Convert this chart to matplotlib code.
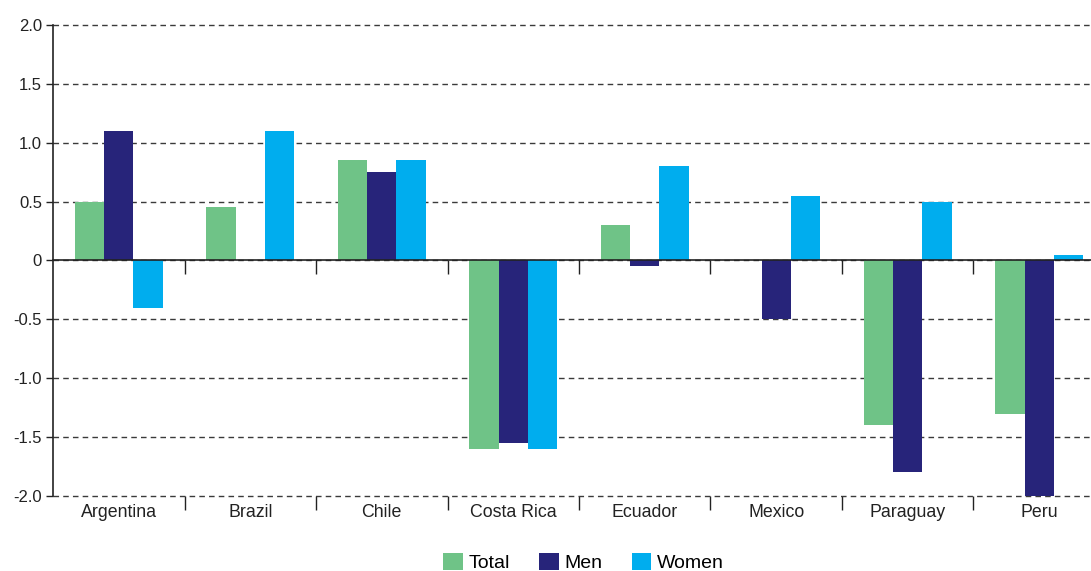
import matplotlib.pyplot as plt
import numpy as np

plt.rcParams["font.family"] = ["Liberation Sans", "DejaVu Sans"]

laender = ["Argentina", "Brazil", "Chile", "Costa Rica", "Ecuador", "Mexico", "Paraguay", "Peru"]
total = [0.5, 0.45, 0.85, -1.6, 0.3, 0.0, -1.4, -1.3]
maenner = [1.1, 0.0, 0.75, -1.55, -0.05, -0.5, -1.8, -2.0]
frauen = [-0.4, 1.1, 0.85, -1.6, 0.8, 0.55, 0.5, 0.05]
y_ticks = [-2.0, -1.5, -1.0, -0.5, 0.0, 0.5, 1.0, 1.5, 2.0]
y_labels = ["-2.0", "-1.5", "-1.0", "-0.5", "0", "0.5", "1.0", "1.5", "2.0"]

farben = {"Total": "#6fc387", "Men": "#27247a", "Women": "#00adee"}

fig = plt.figure(figsize=(10.91, 5.71), dpi=100)
ax = fig.add_axes([0.0486, 0.1313, 0.9642, 0.825])

x = np.arange(len(laender))
breite = 0.222

ax.bar(x - breite, total, breite, color=farben["Total"], linewidth=0, label="Total", zorder=3)
ax.bar(x, maenner, breite, color=farben["Men"], linewidth=0, label="Men", zorder=3)
ax.bar(x + breite, frauen, breite, color=farben["Women"], linewidth=0, label="Women", zorder=3)

ax.set_xlim(-0.5, len(laender) - 0.5)
ax.set_ylim(-2.0, 2.0)

# y achse
ax.set_yticks(y_ticks)
ax.set_yticklabels(y_labels, fontsize=12, color="#222222")
ax.tick_params(axis="y", length=5, width=1, color="#222222", pad=3)
ax.yaxis.grid(True, linestyle=(0, (4, 3)), color="#3a3a3a", linewidth=1, zorder=0)
for linie in ax.get_ygridlines():
    linie.set_clip_on(False)

# x achse: labels in der mitte, striche an den grenzen
grenzen = np.arange(len(laender) - 1) + 0.5
ax.set_xticks(x)
ax.set_xticklabels(laender, fontsize=12.8, color="#222222")
ax.tick_params(axis="x", which="major", length=0, pad=6)
ax.set_xticks(grenzen, minor=True)
ax.tick_params(axis="x", which="minor", length=10, width=1, color="#222222", direction="out")

for seite in ["top", "right", "bottom"]:
    ax.spines[seite].set_visible(False)
ax.spines["left"].set_color("#222222")
ax.spines["left"].set_linewidth(1.2)

# nulllinie mit strichen nach unten
null = ax.secondary_xaxis(0.5)
null.set_xticks(grenzen)
null.set_xticklabels([])
null.tick_params(axis="x", length=10, width=1, color="#222222", direction="in")
null.spines["bottom"].set_visible(False)
null.spines["top"].set_color("#222222")
null.spines["top"].set_linewidth(1.2)
null.set_zorder(5)

fig.legend(
    loc="center",
    bbox_to_anchor=(0.535, 0.015),
    ncol=3,
    frameon=False,
    fontsize=14,
    handlelength=1.0,
    handleheight=1.0,
    handletextpad=0.3,
    columnspacing=1.5,
    borderpad=0.2,
)

plt.savefig("out.png", dpi=100)
